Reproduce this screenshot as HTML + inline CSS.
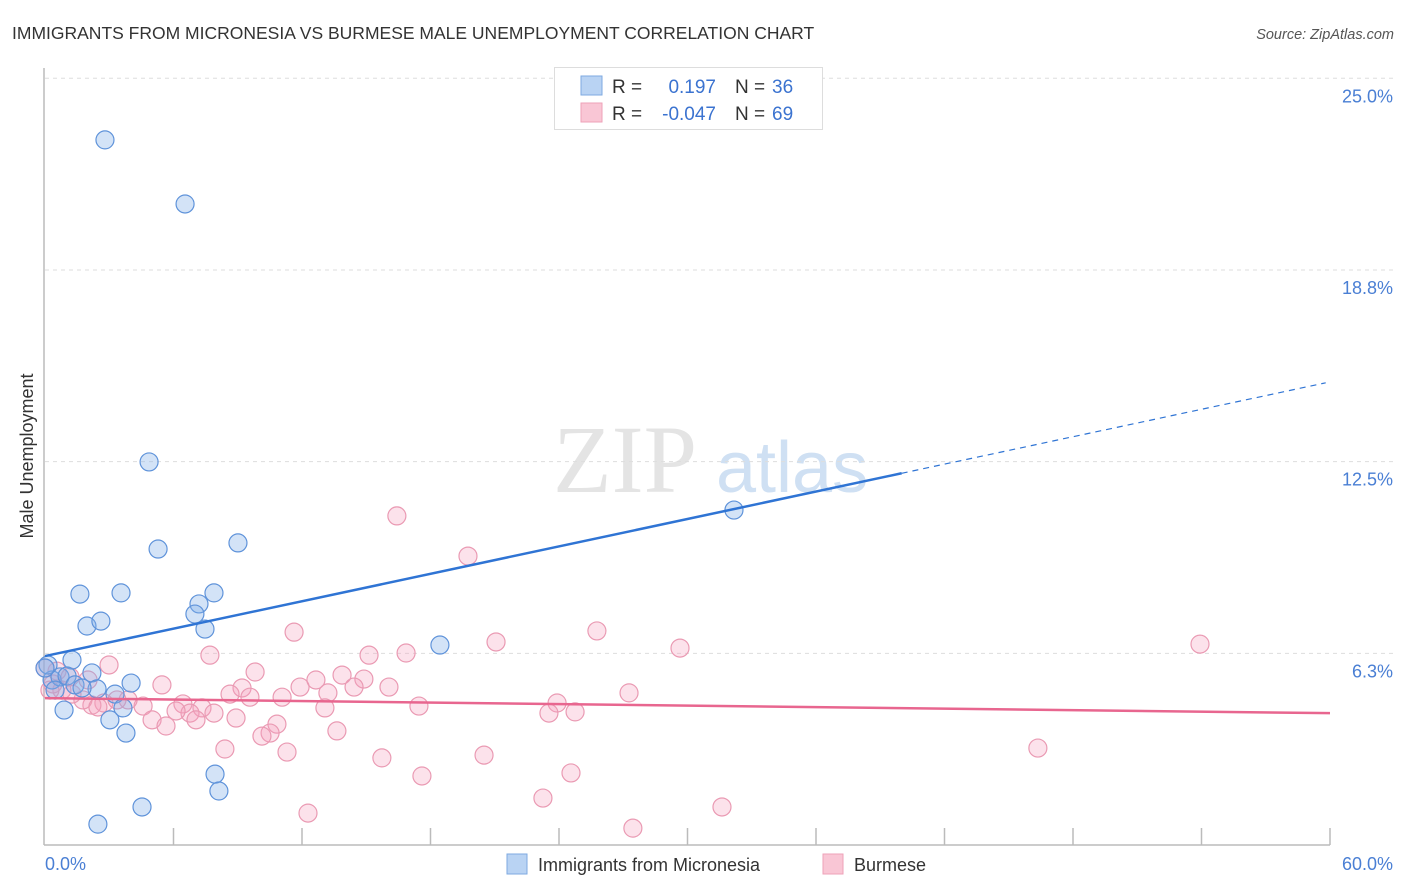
<!DOCTYPE html>
<html><head><meta charset="utf-8"><style>
body{margin:0;background:#fff;font-family:"Liberation Sans",sans-serif;}
svg{display:block}
</style></head><body>
<svg id="chart" width="1406" height="892" viewBox="0 0 1406 892" xmlns="http://www.w3.org/2000/svg">
<text x="12" y="39" font-size="17.5" fill="#333">IMMIGRANTS FROM MICRONESIA VS BURMESE MALE UNEMPLOYMENT CORRELATION CHART</text>
<text x="1394" y="39" font-size="14.5" fill="#555" font-style="italic" text-anchor="end">Source: ZipAtlas.com</text>
<g>
<text x="553" y="492" font-size="96" font-family="Liberation Serif,serif" fill="#e4e4e4">ZIP</text>
<text x="716" y="492" font-size="72" fill="#cfe0f3">atlas</text>
</g>
<g id="grid"></g>
<g id="yticks"></g>
<line x1="44" y1="68" x2="44" y2="845" stroke="#bbb" stroke-width="1.5"/>
<line x1="44" y1="845" x2="1330" y2="845" stroke="#bbb" stroke-width="1.5"/>
<g id="xticks"></g>
<text x="45" y="870" font-size="18" fill="#4a7fd4">0.0%</text>
<text x="1393" y="870" font-size="18" fill="#4a7fd4" text-anchor="end">60.0%</text>
<text transform="translate(33,456) rotate(-90)" font-size="18" fill="#333" text-anchor="middle">Male Unemployment</text>
<g id="pink"></g>
<g id="blue"></g>
<g id="lines"></g>
<g>
<rect x="554.5" y="67.5" width="268" height="62" fill="#fff" stroke="#ddd"/>
<rect x="581" y="76" width="21" height="19" fill="#b9d3f3" stroke="#7ea9e0"/>
<rect x="581" y="103" width="21" height="19" fill="#f9c6d5" stroke="#eea2b8"/>
<text x="612" y="93" font-size="19" fill="#333">R =</text>
<text x="716" y="93" font-size="19" fill="#3b73d0" text-anchor="end">0.197</text>
<text x="735" y="93" font-size="19" fill="#333">N =</text>
<text x="772" y="93" font-size="19" fill="#3b73d0">36</text>
<text x="612" y="120" font-size="19" fill="#333">R =</text>
<text x="716" y="120" font-size="19" fill="#3b73d0" text-anchor="end">-0.047</text>
<text x="735" y="120" font-size="19" fill="#333">N =</text>
<text x="772" y="120" font-size="19" fill="#3b73d0">69</text>
</g>
<g>
<rect x="507" y="854" width="20" height="20" fill="#b9d3f3" stroke="#7ea9e0"/>
<text x="538" y="871" font-size="18" fill="#333">Immigrants from Micronesia</text>
<rect x="823" y="854" width="20" height="20" fill="#f9c6d5" stroke="#eea2b8"/>
<text x="854" y="871" font-size="18" fill="#333">Burmese</text>
</g>
</svg>
<script>
const yTickValues=[6.25,12.5,18.75,25];
const yTickLabels=["6.3%","12.5%","18.8%","25.0%"];
const xTickValues=[6,12,18,24,30,36,42,48,54,60];
const blueX=[2.80,6.54,4.86,5.28,9.01,1.63,3.55,7.89,7.19,7.00,1.96,2.61,7.47,18.44,32.17,1.26,2.19,0.33,0.70,1.03,1.40,2.43,3.27,4.02,0.89,3.03,3.78,3.64,7.94,8.12,4.53,2.47,0.14,0.47,1.73,0.0];
const blueY=[22.99,20.90,12.49,9.65,9.85,8.18,8.22,8.22,7.86,7.53,7.14,7.30,7.04,6.52,10.92,6.03,5.61,5.38,5.48,5.51,5.22,5.09,4.92,5.28,4.40,4.08,3.65,4.47,2.31,1.76,1.24,0.68,5.87,5.05,5.12,5.77];
const pinkX=[16.43,19.75,11.63,25.77,21.06,29.65,53.93,7.70,16.86,15.13,2.99,9.81,5.46,12.65,13.87,14.89,16.06,11.91,9.20,8.64,9.57,13.21,11.07,14.43,27.27,23.91,17.46,13.07,23.53,24.75,6.44,7.33,4.58,3.88,2.75,2.19,1.77,1.26,0.79,0.37,0.56,1.17,2.01,7.89,6.77,6.12,5.00,5.65,7.05,8.92,10.83,13.63,10.51,10.13,8.40,11.30,15.73,20.50,17.60,24.56,46.36,23.25,31.61,12.28,27.45,3.36,2.47,0.0,0.23];
const pinkY=[10.73,9.42,6.94,6.98,6.62,6.42,6.55,6.19,6.26,6.19,5.87,5.64,5.22,5.38,5.54,5.41,5.15,5.15,5.12,4.92,4.82,4.96,4.82,5.15,4.96,4.63,4.53,4.47,4.30,4.34,4.60,4.47,4.53,4.73,4.63,4.56,4.73,4.92,5.05,5.25,5.67,5.48,5.38,4.30,4.30,4.37,4.08,3.88,4.08,4.14,3.94,3.72,3.65,3.55,3.13,3.03,2.84,2.93,2.25,2.35,3.16,1.53,1.24,1.04,0.55,4.73,4.50,5.77,5.05];
const blueTrend=[6.16,0.149]; // intercept, slope
const pinkTrend=[4.79,-0.0082];
const X0=45,X1=1330,Y0=845,PPY=30.67;
const sx=v=>X0+(X1-X0)*v/60;
const sy=v=>Y0-v*PPY;
const NS="http://www.w3.org/2000/svg";
function mk(t,a,p){const e=document.createElementNS(NS,t);for(const k in a)e.setAttribute(k,a[k]);p.appendChild(e);return e;}
const grid=document.getElementById('grid'),yt=document.getElementById('yticks'),xt=document.getElementById('xticks');
yTickValues.forEach((v,i)=>{
 const l=mk('line',{x1:45,x2:1393,y1:sy(v),y2:sy(v),stroke:'#ddd','stroke-dasharray':'4,4'},grid);
 
 
 const t=mk('text',{x:1393,y:sy(v)+24,'font-size':18,fill:'#4a7fd4','text-anchor':'end'},yt);
 t.textContent=yTickLabels[i];
 
 
});
xTickValues.forEach(v=>{
 const l=mk('line',{x1:sx(v),x2:sx(v),y1:828,y2:845,stroke:'#bbb','stroke-width':1.5},xt);
 
 
});
function pts(xs,ys,g,fill,stroke,name){
 xs.forEach((x,i)=>{
  const c=mk('circle',{cx:sx(x),cy:sy(ys[i]),r:9,fill:fill,stroke:stroke,'stroke-width':1.2},g);
  
  
 });
}
pts(pinkX,pinkY,document.getElementById('pink'),'rgba(244,160,188,0.3)','#ea9ab3','burmese-point');
pts(blueX,blueY,document.getElementById('blue'),'rgba(130,175,232,0.35)','#5f93da','micronesia-point');
const lg=document.getElementById('lines');
const bl=mk('line',{x1:sx(0),y1:sy(blueTrend[0]),x2:sx(40),y2:sy(blueTrend[0]+40*blueTrend[1]),stroke:'#2f74d4','stroke-width':2.5},lg);


const bd=mk('line',{x1:sx(40),y1:sy(blueTrend[0]+40*blueTrend[1]),x2:sx(59.8),y2:sy(blueTrend[0]+59.8*blueTrend[1]),stroke:'#2f74d4','stroke-width':1.2,'stroke-dasharray':'6,5'},lg);


const pl=mk('line',{x1:sx(0),y1:sy(pinkTrend[0]),x2:sx(60),y2:sy(pinkTrend[0]+60*pinkTrend[1]),stroke:'#e8668f','stroke-width':2.5},lg);


</script>
</body></html>
